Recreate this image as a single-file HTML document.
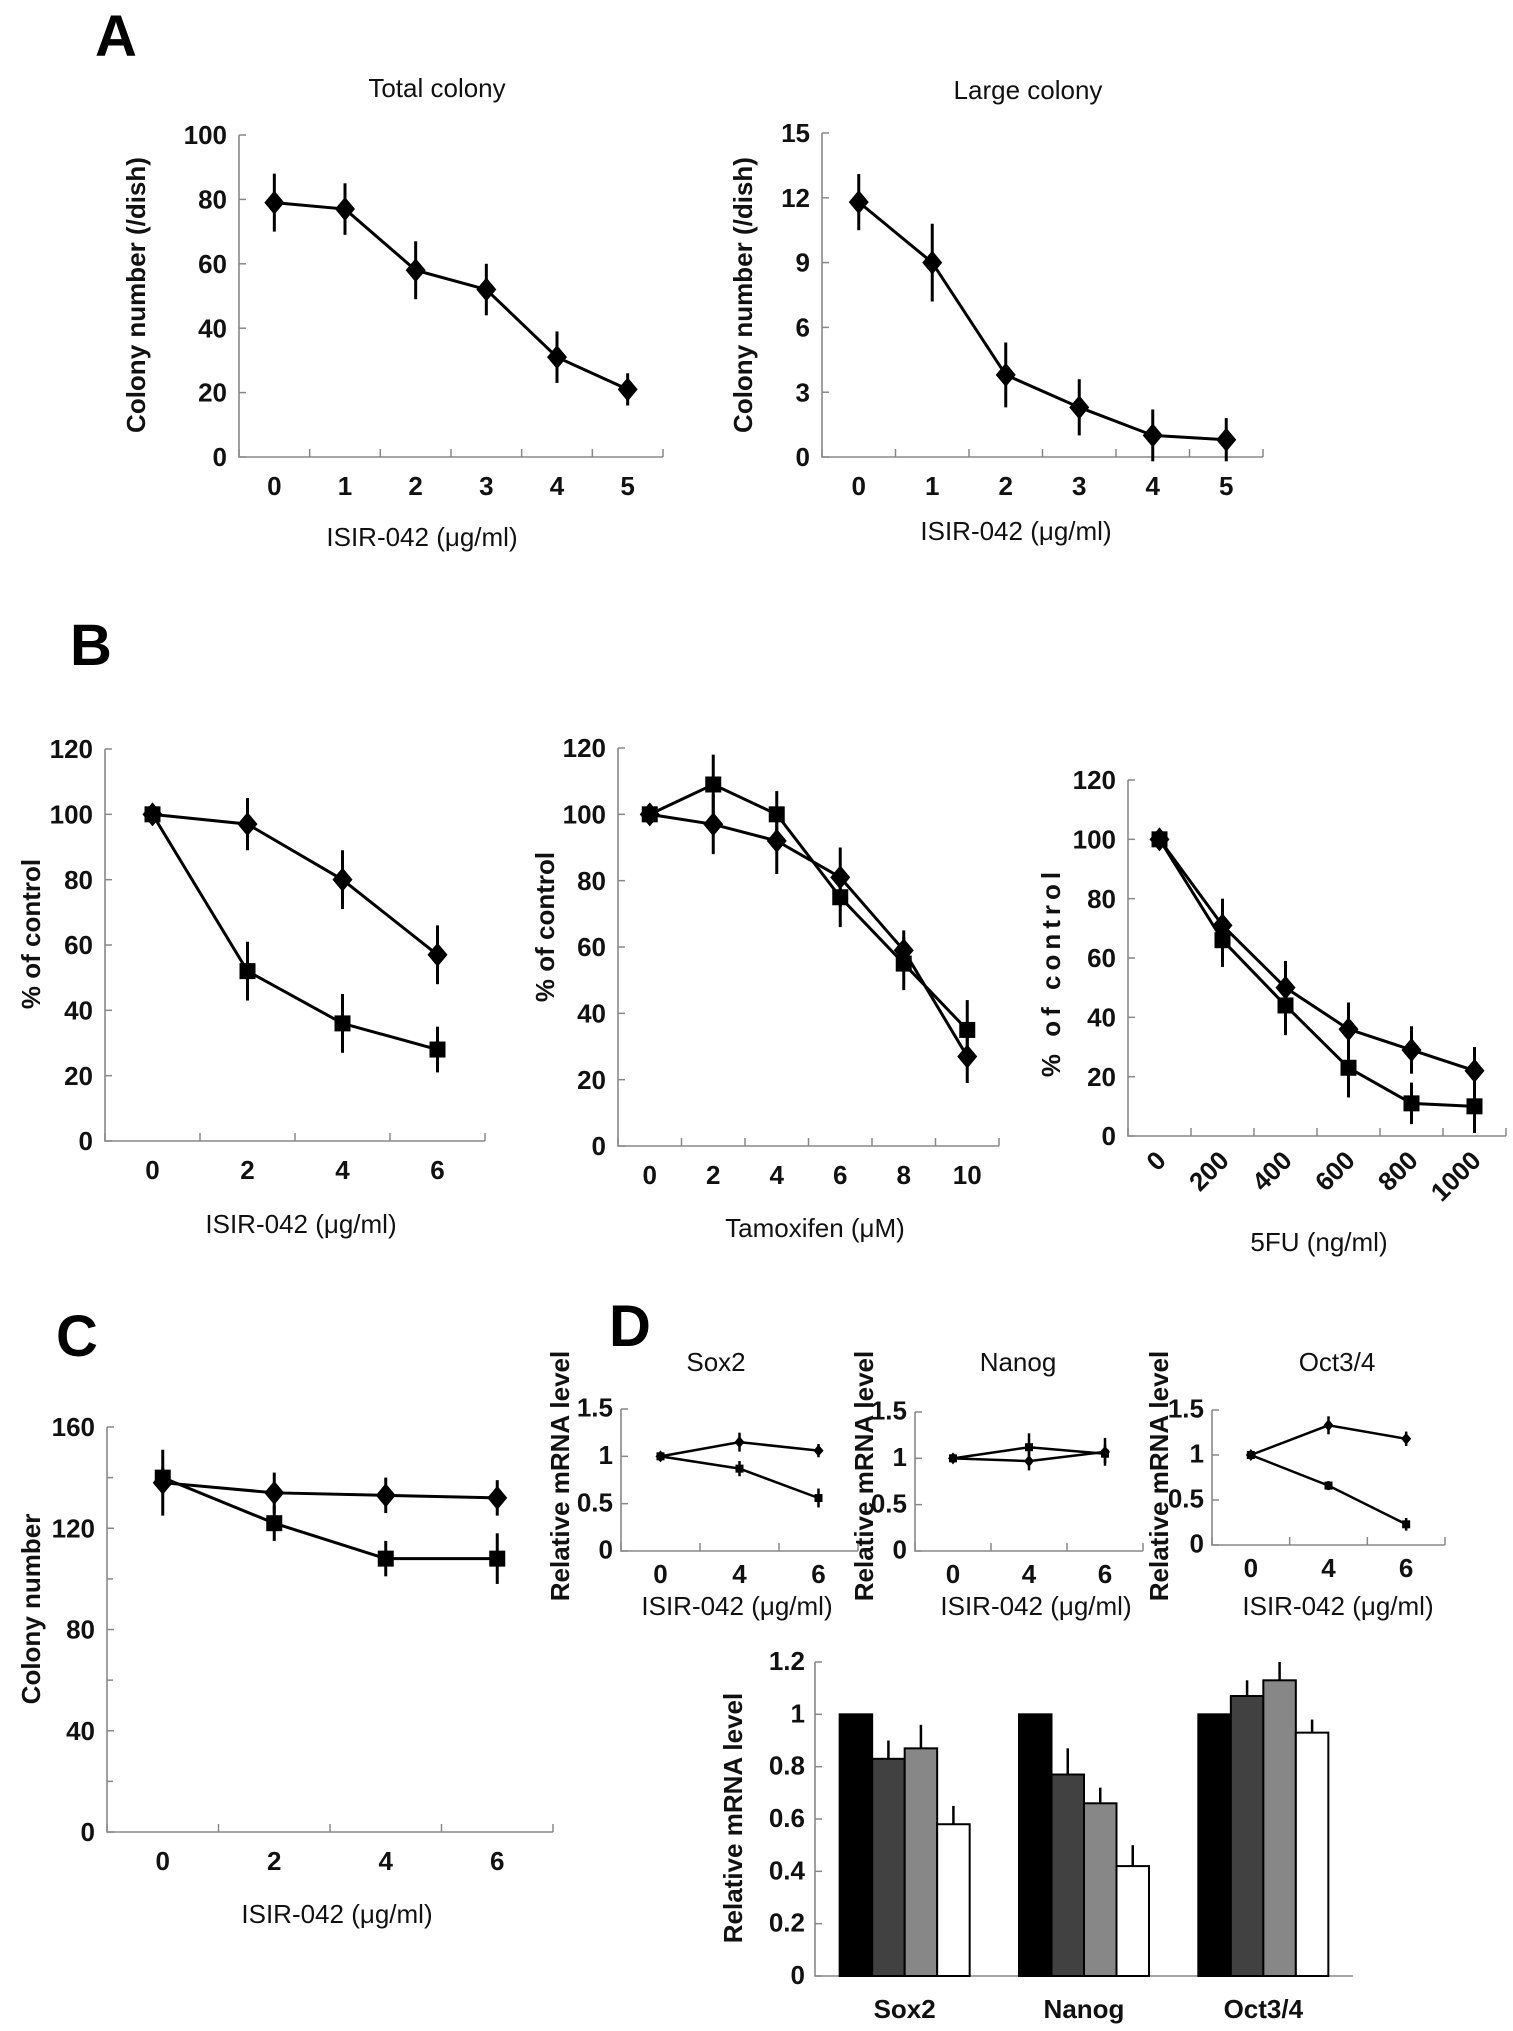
<!DOCTYPE html>
<html><head><meta charset="utf-8"><style>
html,body{margin:0;padding:0;background:#fff;}
svg{display:block;font-family:"Liberation Sans",sans-serif;}
.tk{font-size:26px;font-weight:bold;fill:#111;}
.sm{font-size:15px;font-weight:bold;fill:#111;}
.lab{font-size:26px;fill:#111;}
.big{font-size:58px;font-weight:bold;fill:#000;}
</style></head><body>
<svg id="fig" width="1513" height="2031" viewBox="0 0 1513 2031" xmlns="http://www.w3.org/2000/svg">
<text class="big" x="95" y="56">A</text>
<text class="big" x="70" y="665">B</text>
<text class="big" x="56" y="1356">C</text>
<text class="big" x="609" y="1346">D</text>
</svg>
<script>
// ---- data ----
const aCats=["0","1","2","3","4","5"];
const aTotal=[79,77,58,52,31,21];
const aTotalErr=[9,8,9,8,8,5];
const aLarge=[11.8,9,3.8,2.3,1.0,0.8];
const aLargeErr=[1.3,1.8,1.5,1.3,1.2,1.0];
const b1Cats=["0","2","4","6"];
const b1Dia=[100,97,80,57];
const b1DiaErr=[3,8,9,9];
const b1Sq=[100,52,36,28];
const b1SqErr=[3,9,9,7];
const b2Cats=["0","2","4","6","8","10"];
const b2Dia=[100,97,92,81,59,27];
const b2DiaErr=[2,9,10,9,6,8];
const b2Sq=[100,109,100,75,55,35];
const b2SqErr=[2,9,7,9,8,9];
const b3Cats=["0","200","400","600","800","1000"];
const b3Dia=[100,71,50,36,29,22];
const b3DiaErr=[3,9,9,9,8,8];
const b3Sq=[100,66,44,23,11,10];
const b3SqErr=[3,9,10,10,7,9];
const cCats=["0","2","4","6"];
const cDia=[138,134,133,132];
const cDiaErr=[13,8,7,7];
const cSq=[140,122,108,108];
const cSqErr=[4,7,7,10];
const dCats=["0","4","6"];
const sox2Dia=[1,1.15,1.06];const sox2DiaErr=[0.03,0.1,0.07];
const sox2Sq=[1,0.87,0.56];const sox2SqErr=[0.03,0.08,0.1];
const nanogDia=[1,0.97,1.07];const nanogDiaErr=[0.03,0.1,0.15];
const nanogSq=[1,1.12,1.05];const nanogSqErr=[0.03,0.15,0.1];
const octDia=[1,1.33,1.18];const octDiaErr=[0.03,0.1,0.08];
const octSq=[1,0.66,0.23];const octSqErr=[0.03,0.05,0.07];
const barGroups=["Sox2","Nanog","Oct3/4"];
const barS1=[1,1,1];
const barS2=[0.83,0.77,1.07];const barS2Err=[0.07,0.1,0.06];
const barS3=[0.87,0.66,1.13];const barS3Err=[0.09,0.06,0.07];
const barS4=[0.58,0.42,0.93];const barS4Err=[0.07,0.08,0.05];

const NS="http://www.w3.org/2000/svg";
const svg=document.getElementById('fig');
function mk(tag,attrs,parent){const e=document.createElementNS(NS,tag);for(const k in attrs)e.setAttribute(k,attrs[k]);(parent||svg).appendChild(e);return e;}
function txt(s,x,y,cls,parent,extra){const e=mk('text',Object.assign({x:x,y:y,class:cls,'text-anchor':'middle'},extra||{}),parent);e.textContent=s;return e;}

function chart(g){
  const grp=mk('g',{});
  
  
  const n=g.cats.length, cw=(g.x1-g.x0)/n;
  const X=i=>g.x0+cw*(i+0.5);
  const Y=v=>g.y0-(v-g.ymin)/(g.ymax-g.ymin)*(g.y0-g.yt);
  const ax=mk('path',{d:`M${g.x0},${g.yt}V${g.y0}H${g.x1}`,stroke:'#888',fill:'none','stroke-width':1.6},grp);
  
  
  for(let i=0;i<=n;i++){mk('line',{x1:g.x0+cw*i,x2:g.x0+cw*i,y1:g.y0,y2:g.y0-8,stroke:'#888','stroke-width':1.5},grp);}
  const steps=Math.round((g.ymax-g.ymin)/g.ystep);
  for(let k=0;k<=steps;k++){const v=g.ymin+k*g.ystep,y=Y(v);
    mk('line',{x1:g.x0,x2:g.x0+7,y1:y,y2:y,stroke:'#888','stroke-width':1.5},grp);
    if(g.minor&&k<steps){const ym=Y(v+g.ystep/2);mk('line',{x1:g.x0,x2:g.x0+6,y1:ym,y2:ym,stroke:'#888','stroke-width':1.5},grp);}
    const t=txt(String(v),g.x0-g.tpad,y+g.fs*0.35,g.tcls,grp,{'text-anchor':'end'});
    
    
  }
  g.cats.forEach((c,i)=>{let t;
    if(g.rot){t=txt(c,X(i)+8,g.y0+g.lpad,g.tcls,grp,{'text-anchor':'end',transform:`rotate(-45 ${X(i)+8} ${g.y0+g.lpad})`});}
    else t=txt(c,X(i),g.y0+g.lpad,g.tcls,grp);
    
    
  });
  (g.series||[]).forEach(s=>{
    const pts=s.v.map((v,i)=>[X(i),Y(v)]);
    const l=mk('polyline',{points:pts.map(p=>p.join(',')).join(' '),fill:'none',stroke:'#000','stroke-width':g.lw||3},grp);
    
    
    s.v.forEach((v,i)=>{
      const e=s.e[i];
      const eb=mk('line',{x1:X(i),x2:X(i),y1:Y(v+e),y2:Y(v-e),stroke:'#000','stroke-width':g.lw||3},grp);
      
      
      const x=X(i),y=Y(v),m=g.ms;let p;
      if(s.shape==='d')p=mk('path',{d:`M${x},${y-m*1.2}L${x+m},${y}L${x},${y+m*1.2}L${x-m},${y}Z`,fill:'#000'},grp);
      else p=mk('rect',{x:x-m*0.8,y:y-m*0.8,width:m*1.6,height:m*1.6,fill:'#000'},grp);
      
      
    });
  });
  return {X,Y,grp,cw};
}
function label(s,x,y,cls,name,rot,extra){
  const t=txt(s,x,y,cls,svg,Object.assign(rot?{transform:`rotate(-90 ${x} ${y})`}:{},extra||{}));
  
  
}
const big={tcls:'tk',fs:26,tpad:12,lpad:38,ms:10,lw:3};
// A
chart(Object.assign({name:'chart-total-colony',cats:aCats,x0:239,x1:663,yt:135,y0:457,ymin:0,ymax:100,ystep:20,
  series:[{name:'total',v:aTotal,e:aTotalErr,shape:'d'}]},big));
chart(Object.assign({name:'chart-large-colony',cats:aCats,x0:822,x1:1263,yt:133,y0:457,ymin:0,ymax:15,ystep:3,
  series:[{name:'large',v:aLarge,e:aLargeErr,shape:'d'}]},big));
label('Total colony',437,97,'lab','title-total-colony',false,{'font-size':'29'});
label('Large colony',1028,99,'lab','title-large-colony',false,{'font-size':'29'});
label('Colony number (/dish)',145,295,'lab','y-axis-title-a1',true,{'font-weight':'bold','font-size':'30'});
label('Colony number (/dish)',752,295,'lab','y-axis-title-a2',true,{'font-weight':'bold','font-size':'30'});
label('ISIR-042 (μg/ml)',422,546,'lab','x-axis-title-a1',false,{'font-size':'28'});
label('ISIR-042 (μg/ml)',1016,540,'lab','x-axis-title-a2',false,{'font-size':'28'});
// B
chart(Object.assign({name:'chart-b-isir',cats:b1Cats,x0:105,x1:485,yt:749,y0:1141,ymin:0,ymax:120,ystep:20,
  series:[{name:'diamond',v:b1Dia,e:b1DiaErr,shape:'d'},{name:'square',v:b1Sq,e:b1SqErr,shape:'s'}]},big));
chart(Object.assign({name:'chart-b-tamoxifen',cats:b2Cats,x0:618,x1:999,yt:748,y0:1146,ymin:0,ymax:120,ystep:20,
  series:[{name:'diamond',v:b2Dia,e:b2DiaErr,shape:'d'},{name:'square',v:b2Sq,e:b2SqErr,shape:'s'}]},big));
chart(Object.assign({name:'chart-b-5fu',cats:b3Cats,x0:1128,x1:1506,yt:780,y0:1136,ymin:0,ymax:120,ystep:20,rot:true,
  series:[{name:'diamond',v:b3Dia,e:b3DiaErr,shape:'d'},{name:'square',v:b3Sq,e:b3SqErr,shape:'s'}]},big,{lpad:26}));
label('% of control',40,934,'lab','y-axis-title-b1',true,{'font-weight':'bold','font-size':'33'});
label('% of control',554,927,'lab','y-axis-title-b2',true,{'font-weight':'bold','font-size':'33'});
label('% of control',1060,972,'lab','y-axis-title-b3',true,{'font-weight':'bold','font-size':'32','letter-spacing':'5'});
label('ISIR-042 (μg/ml)',301,1233,'lab','x-axis-title-b1',false,{'font-size':'28'});
label('Tamoxifen (μM)',815,1237,'lab','x-axis-title-b2',false,{'font-size':'28'});
label('5FU (ng/ml)',1319,1251,'lab','x-axis-title-b3',false,{'font-size':'28'});
// C
chart(Object.assign({name:'chart-c',cats:cCats,x0:107,x1:553,yt:1427,y0:1832,ymin:0,ymax:160,ystep:40,minor:true,
  series:[{name:'diamond',v:cDia,e:cDiaErr,shape:'d'},{name:'square',v:cSq,e:cSqErr,shape:'s'}]},big));
label('Colony number',40,1609,'lab','y-axis-title-c',true,{'font-weight':'bold','font-size':'44'});
label('ISIR-042 (μg/ml)',337,1923,'lab','x-axis-title-c',false,{'font-size':'28'});
// D small
const sm={tcls:'tk',fs:22,tpad:8,lpad:32,ms:5,lw:2.5,ymin:0,ymax:1.5,ystep:0.5};
chart(Object.assign({name:'chart-d-sox2',cats:dCats,x0:621,x1:858,yt:1409,y0:1551,
  series:[{name:'diamond',v:sox2Dia,e:sox2DiaErr,shape:'d'},{name:'square',v:sox2Sq,e:sox2SqErr,shape:'s'}]},sm));
chart(Object.assign({name:'chart-d-nanog',cats:dCats,x0:915,x1:1143,yt:1412,y0:1551,
  series:[{name:'diamond',v:nanogDia,e:nanogDiaErr,shape:'d'},{name:'square',v:nanogSq,e:nanogSqErr,shape:'s'}]},sm));
chart(Object.assign({name:'chart-d-oct34',cats:dCats,x0:1212,x1:1445,yt:1410,y0:1545,
  series:[{name:'diamond',v:octDia,e:octDiaErr,shape:'d'},{name:'square',v:octSq,e:octSqErr,shape:'s'}]},sm));
label('Sox2',716,1371,'lab','title-sox2',false,{'font-size':'28'});
label('Nanog',1018,1371,'lab','title-nanog',false,{'font-size':'28'});
label('Oct3/4',1337,1371,'lab','title-oct34',false,{'font-size':'28'});
[[569,1476],[873,1476],[1168,1476]].forEach((p,i)=>label('Relative mRNA level',p[0],p[1],'lab','y-axis-title-d'+(i+1),true,{'font-weight':'bold','font-size':'21'}));
[737,1036,1338].forEach((x,i)=>label('ISIR-042 (μg/ml)',x,1615,'lab','x-axis-title-d'+(i+1),false,{'font-size':'28'}));
// D bar chart
(function(){
  const x0=815,x1=1353,yt=1662,y0=1976,ymax=1.2;
  const Y=v=>y0-v/ymax*(y0-yt);
  const gw=(x1-x0)/barGroups.length,bw=32.5;
  const g=mk('g',{});
  
  
  mk('path',{d:`M${x0},${yt}V${y0}H${x1}`,stroke:'#888',fill:'none','stroke-width':1.6},g);
  for(let k=0;k<=6;k++){const v=k*0.2,y=Y(v);
    mk('line',{x1:x0,x2:x0+7,y1:y,y2:y,stroke:'#888','stroke-width':1.5},g);
    const t=txt(k===0?'0':(k===5?'1':v.toFixed(1)),x0-10,y+8,'tk',g,{'text-anchor':'end'});
    
    
  }
  const series=[[barS1,null,'#000'],[barS2,barS2Err,'#414141'],[barS3,barS3Err,'#878787'],[barS4,barS4Err,'#fff']];
  barGroups.forEach((name,gi)=>{
    const cx=x0+gw*(gi+0.5),start=cx-bw*2;
    series.forEach((s,si)=>{
      const v=s[0][gi],x=start+si*bw;
      if(s[1]){const e=mk('line',{x1:x+bw*0.5,x2:x+bw*0.5,y1:Y(v),y2:Y(v+s[1][gi]),stroke:'#000','stroke-width':2.5},g);
        
        }
      const r=mk('rect',{x:x,y:Y(v),width:bw,height:y0-Y(v),fill:s[2],stroke:'#000','stroke-width':2},g);
      
      
    });
    const t=txt(name,cx,2018,'tk',g,{'font-size':'20'});
    
    
  });
})();
label('Relative mRNA level',742,1818,'lab','y-axis-title-d-bar',true,{'font-weight':'bold','font-size':'24'});
</script>
</body></html>
